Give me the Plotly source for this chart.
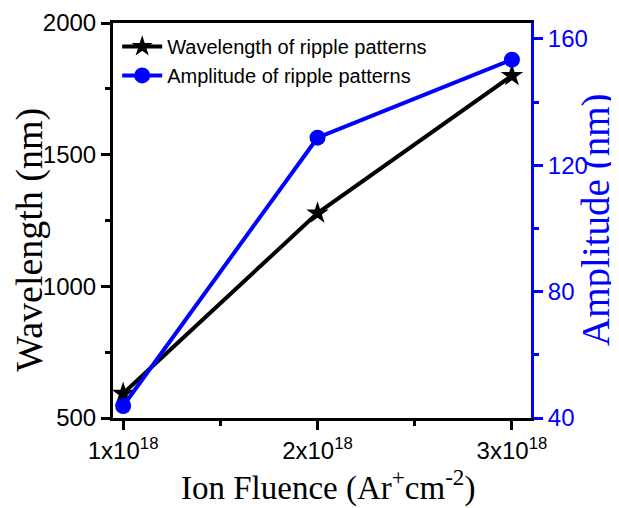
import plotly.graph_objects as go

fluence = [1, 2, 3]  # x 10^18 Ar+ cm^-2
fluence_ticks = ["1x10<sup>18</sup>", "2x10<sup>18</sup>", "3x10<sup>18</sup>"]
wavelength = [593, 1278, 1800]
amplitude = [43.8, 128.7, 153.4]

fig = go.Figure()
fig.add_trace(go.Scatter(
    x=fluence, y=wavelength, mode="lines+markers",
    name="Wavelength of ripple patterns",
    line=dict(color="black", width=4),
    marker=dict(symbol="star", size=17, color="black"),
))
fig.add_trace(go.Scatter(
    x=fluence, y=amplitude, mode="lines+markers",
    name="Amplitude of ripple patterns", yaxis="y2",
    line=dict(color="#0000ff", width=4),
    marker=dict(symbol="circle", size=16, color="#0000ff"),
))

tickfont = dict(family="Liberation Sans, Arial", size=24, color="black")
serif = "Liberation Serif, Times New Roman"
fig.update_layout(
    width=611, height=500,
    margin=dict(l=105, r=88, t=15, b=90),
    paper_bgcolor="white", plot_bgcolor="white",
    showlegend=True,
    legend=dict(x=0.01, y=0.99, xanchor="left", yanchor="top",
                bgcolor="rgba(0,0,0,0)",
                font=dict(family="Liberation Sans, Arial", size=20, color="black"),
                tracegroupgap=0, itemwidth=40),
    xaxis=dict(
        range=[0.948, 3.098], tickmode="array", tickvals=fluence, ticktext=fluence_ticks,
        automargin=False,
        showgrid=False, zeroline=False, showline=True, linecolor="black", linewidth=3,
        mirror=True, ticks="outside", ticklen=9, tickwidth=3, tickcolor="black",
        tickfont=tickfont,
        minor=dict(tickmode="array", tickvals=[1.5, 2.5], ticks="outside", ticklen=5,
                   tickwidth=3, tickcolor="black"),
    ),
    yaxis=dict(
        range=[500, 2000], tickmode="array", tickvals=[500, 1000, 1500, 2000],
        automargin=False,
        showgrid=False, zeroline=False, showline=True, linecolor="black", linewidth=3,
        ticks="outside", ticklen=9, tickwidth=3, tickcolor="black",
        tickfont=tickfont,
        minor=dict(tickmode="array", tickvals=[750, 1250, 1750], ticks="outside", ticklen=5,
                   tickwidth=3, tickcolor="black"),
    ),
    yaxis2=dict(
        overlaying="y", side="right", range=[40, 165], tickmode="array",
        tickvals=[40, 80, 120, 160],
        automargin=False,
        showgrid=False, zeroline=False, showline=True, linecolor="#0000ff", linewidth=3,
        ticks="outside", ticklen=9, tickwidth=3, tickcolor="#0000ff",
        tickfont=dict(family="Liberation Sans, Arial", size=24, color="#0000ff"),
        minor=dict(tickmode="array", tickvals=[60, 100, 140], ticks="outside", ticklen=5,
                   tickwidth=3, tickcolor="#0000ff"),
    ),
    annotations=[
        dict(text="Ion Fluence (Ar<sup>+</sup>cm<sup>-2</sup>)", xref="paper", yref="paper",
             x=0.515, y=-0.172, xanchor="center", yanchor="middle", showarrow=False,
             font=dict(family=serif, size=33, color="black")),
        dict(text="Wavelength (nm)", xref="paper", yref="paper", textangle=-90,
             x=-0.199, y=0.451, xanchor="center", yanchor="middle", showarrow=False,
             font=dict(family=serif, size=38, color="black")),
        dict(text="Amplitude (nm)", xref="paper", yref="paper", textangle=-90,
             x=1.155, y=0.501, xanchor="center", yanchor="middle", showarrow=False,
             font=dict(family=serif, size=39, color="#0000ff")),
    ],
)

fig.write_html("out.html")
